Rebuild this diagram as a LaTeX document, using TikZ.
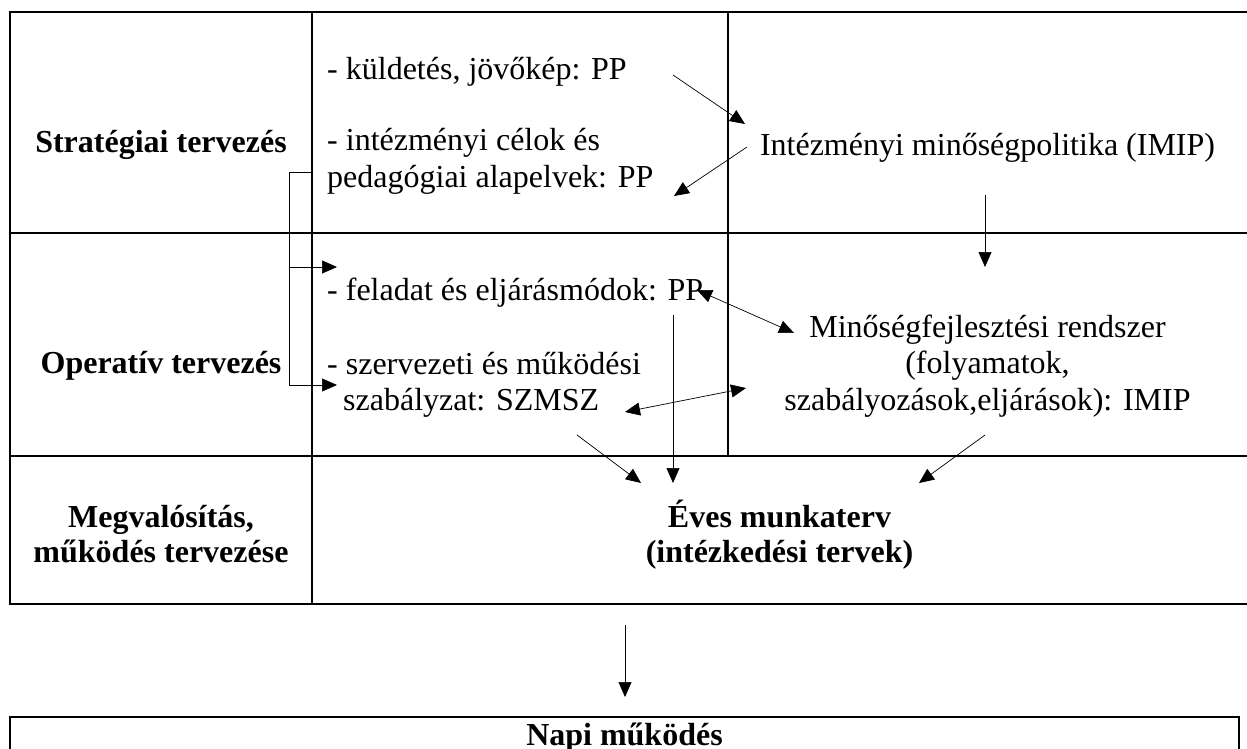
\documentclass[tikz,border=0pt]{standalone}
\usepackage{fontspec}
\setmainfont{Liberation Serif}
\usetikzlibrary{arrows.meta}
\begin{document}
\begin{tikzpicture}[x=1pt,y=-1pt,
  frame/.style={line width=2pt},
  thinline/.style={line width=0.9pt},
  tip/.tip={Triangle[length=15pt,width=13pt]},
  link/.style={line width=0.7pt,-tip},
  dlink/.style={line width=0.7pt,tip-tip},
  txt/.style={inner sep=0pt,font=\fontsize{32}{37}\selectfont},
  btxt/.style={inner sep=0pt,font=\fontsize{32}{37}\selectfont\bfseries},
]
\useasboundingbox (0,0) rectangle (1247,749);
\fill[white] (0,0) rectangle (1247,749);

% planning table
\draw[frame] (1250,12) -- (10,12) -- (10,604) -- (1250,604);
\draw[frame] (10,233) -- (1250,233);
\draw[frame] (10,456) -- (1250,456);
\draw[frame] (312,12) -- (312,604);
\draw[frame] (728,12) -- (728,456);

% daily operation box
\draw[frame] (10,760) -- (10,717) -- (1239,717) -- (1239,760);

% row labels
\node[btxt,anchor=base] (strat) at (161,152) {Stratégiai tervezés};
\node[btxt,anchor=base] (oper) at (161,373) {Operatív tervezés};
\node[btxt,anchor=base] (megv1) at (161,527) {Megvalósítás,};
\node[btxt,anchor=base] (megv2) at (161,562) {működés tervezése};

% documents
\node[txt,anchor=base west] (kuld) at (327,80) {- küldetés, jövőkép: PP};
\node[txt,anchor=base west] (celok) at (327,150) {- intézményi célok és};
\node[txt,anchor=base west] (alap) at (327,187) {pedagógiai alapelvek: PP};
\node[txt,anchor=base] (imip) at (987.5,156) {Intézményi minőségpolitika (IMIP)};
\node[txt,anchor=base west] (felad) at (327,300) {- feladat és eljárásmódok: PP};
\node[txt,anchor=base west] (szerv) at (327,374) {- szervezeti és működési};
\node[txt,anchor=base west] (szmsz) at (343,410) {szabályzat: SZMSZ};
\node[txt,anchor=base] (mfr1) at (987.5,337) {Minőségfejlesztési rendszer};
\node[txt,anchor=base] (mfr2) at (987.5,373) {(folyamatok,};
\node[txt,anchor=base] (mfr3) at (987.5,410) {szabályozások,eljárások): IMIP};
\node[btxt,anchor=base] (eves1) at (779.5,527) {Éves munkaterv};
\node[btxt,anchor=base] (eves2) at (779.5,562) {(intézkedési tervek)};
\node[btxt,anchor=base] (napi) at (624.5,745) {Napi működés};

% connector end points
\coordinate (kuldE) at (673,75);
\coordinate (imipW) at (745,124);
\coordinate (imipSW) at (747,147);
\coordinate (alapE) at (674,196);
\coordinate (imipS) at (985,195);
\coordinate (mfrN) at (985,267);
\coordinate (feladE) at (697,290);
\coordinate (mfrW) at (794,333);
\coordinate (szmszE) at (625,412);
\coordinate (mfrW2) at (746,388);
\coordinate (szmszS) at (577,435);
\coordinate (evesA) at (641,483);
\coordinate (feladS) at (673,315);
\coordinate (evesB) at (673,483);
\coordinate (mfrS) at (985,435);
\coordinate (evesC) at (919,483);
\coordinate (evesS) at (625,625);
\coordinate (napiN) at (625,697);
\coordinate (brTop) at (312,172);
\coordinate (brMid) at (289,267);
\coordinate (brBot) at (289,385);
\coordinate (feladW) at (337,267);
\coordinate (szervW) at (337,385);

% connectors
\draw[link] (kuldE) -- (imipW);
\draw[link] (imipSW) -- (alapE);
\draw[link] (imipS) -- (mfrN);
\draw[dlink] (feladE) -- (mfrW);
\draw[dlink] (szmszE) -- (mfrW2);
\draw[link] (szmszS) -- (evesA);
\draw[link] (feladS) -- (evesB);
\draw[link] (mfrS) -- (evesC);
\draw[link] (evesS) -- (napiN);

% bracket from strategic to operative level
\draw[thinline] (brTop) -| (brBot);
\draw[link] (brMid) -- (feladW);
\draw[link] (brBot) -- (szervW);
\end{tikzpicture}
\end{document}
